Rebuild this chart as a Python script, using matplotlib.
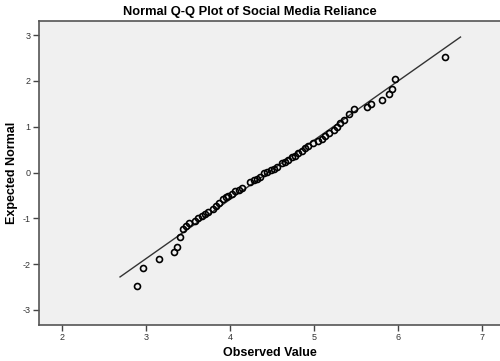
import matplotlib
matplotlib.use("Agg")
import matplotlib.pyplot as plt

plt.rcParams['font.family'] = ['Liberation Sans', 'DejaVu Sans']
plt.rcParams['axes.unicode_minus'] = False

observed = [2.89, 2.96, 3.15, 3.33, 3.37, 3.40, 3.44, 3.47, 3.51, 3.58,
            3.62, 3.66, 3.70, 3.74, 3.79, 3.83, 3.87, 3.91, 3.95, 3.98,
            4.02, 4.06, 4.10, 4.14, 4.24, 4.28, 4.32, 4.36, 4.40, 4.44,
            4.48, 4.52, 4.56, 4.62, 4.65, 4.69, 4.73, 4.77, 4.81, 4.85,
            4.89, 4.93, 4.99, 5.05, 5.09, 5.13, 5.17, 5.23, 5.27, 5.31,
            5.35, 5.41, 5.47, 5.63, 5.67, 5.81, 5.89, 5.92, 5.96, 6.55]
expected = [-2.48, -2.08, -1.88, -1.73, -1.62, -1.41, -1.24, -1.16, -1.10, -1.05,
            -1.00, -0.95, -0.90, -0.86, -0.80, -0.73, -0.66, -0.57, -0.54, -0.51,
            -0.47, -0.41, -0.38, -0.34, -0.20, -0.17, -0.14, -0.09, -0.01, 0.02,
            0.06, 0.08, 0.12, 0.21, 0.24, 0.28, 0.34, 0.36, 0.42, 0.47,
            0.54, 0.58, 0.64, 0.69, 0.73, 0.79, 0.86, 0.93, 1.00, 1.08,
            1.15, 1.28, 1.38, 1.44, 1.50, 1.59, 1.71, 1.82, 2.04, 2.52]

# reference line end points
line_x = [2.69, 6.74]
line_y = [-2.28, 2.96]

xticks = [2, 3, 4, 5, 6, 7]
yticks = [-3, -2, -1, 0, 1, 2, 3]

fig = plt.figure(figsize=(5, 3.61), dpi=100)
ax = fig.add_axes([0.078, 0.0997, 0.922, 0.8421])
ax.set_facecolor('#f0f0f0')

ax.plot(line_x, line_y, color='#333333', linewidth=1.0)
ax.plot(observed, expected, 'o', markerfacecolor='none', markeredgecolor='black',
        markersize=4.3, markeredgewidth=1.2)

ax.set_xlim(1.726, 7.21)
ax.set_ylim(-3.33, 3.31)
ax.set_xticks(xticks)
ax.set_yticks(yticks)
ax.tick_params(direction='out', length=4, width=1, colors='#444444', labelsize=6.5,
               labelcolor='#333333', pad=2)

for s in ['left', 'bottom', 'top']:
    ax.spines[s].set_color('#555555')
    ax.spines[s].set_linewidth(1.2)
ax.spines['right'].set_visible(False)

fig.text(0.539, 0.022, 'Observed Value', ha='center', va='center',
         fontsize=9, fontweight='bold')
fig.text(0.024, 0.521, 'Expected Normal', ha='center', va='center', rotation=90,
         fontsize=9, fontweight='bold')
fig.text(0.5, 0.968, 'Normal Q-Q Plot of Social Media Reliance', ha='center', va='center',
         fontsize=9.3, fontweight='bold')

fig.savefig('out.png', dpi=100, facecolor='white')
